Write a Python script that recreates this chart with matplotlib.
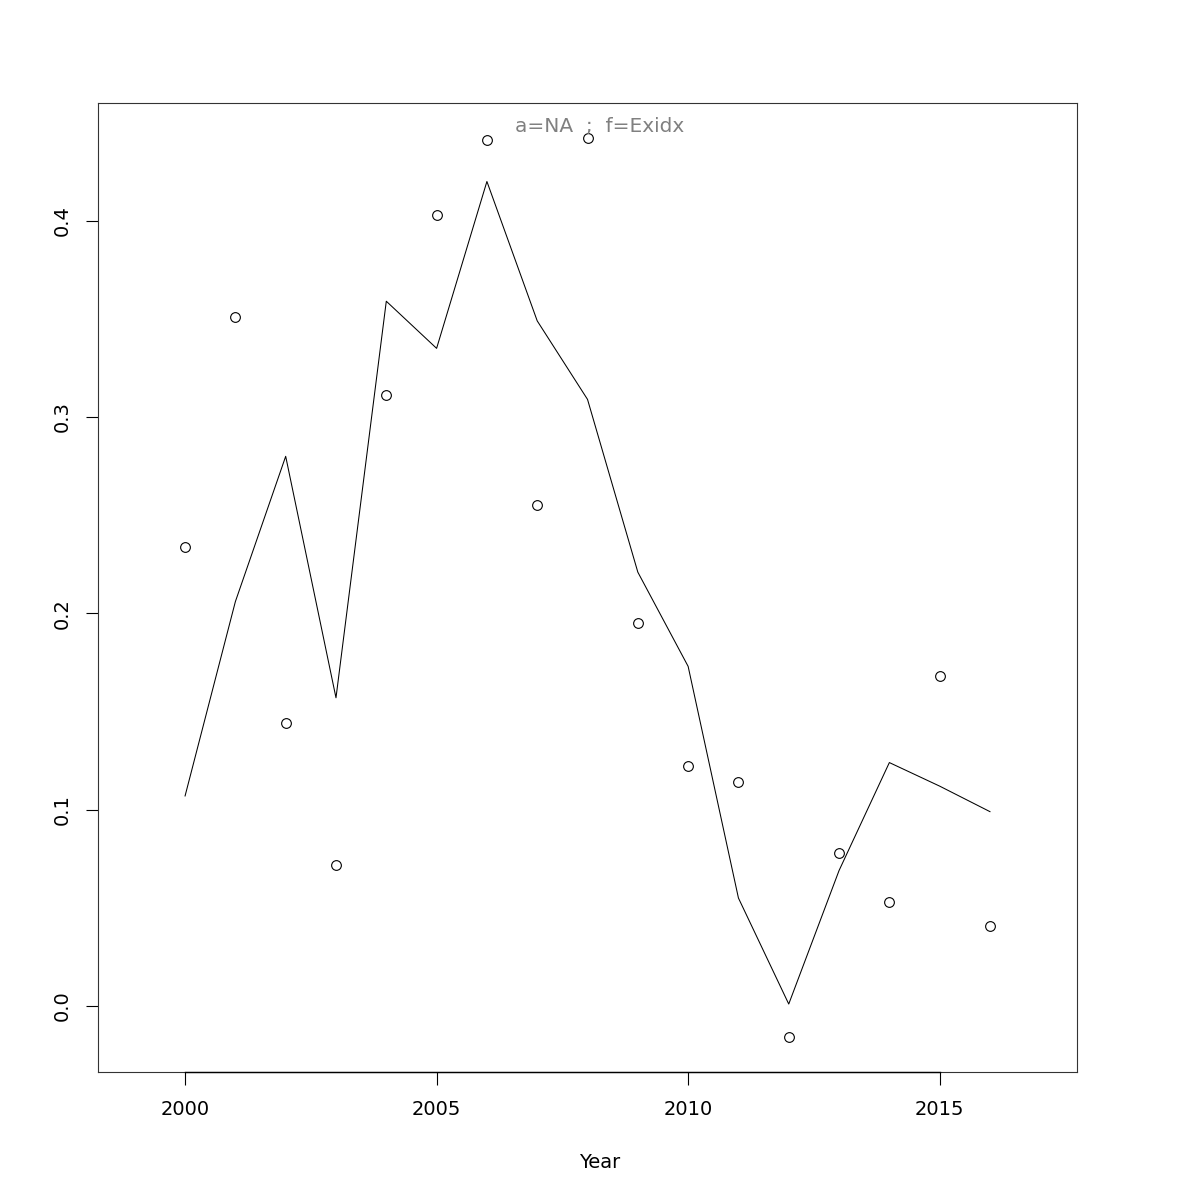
import matplotlib
matplotlib.use("Agg")
import matplotlib.pyplot as plt

years = list(range(2000, 2017))
obs = [0.234, 0.351, 0.144, 0.072, 0.311, 0.403, 0.441, 0.255, 0.442,
       0.195, 0.122, 0.114, -0.016, 0.078, 0.053, 0.168, 0.041]
fit = [0.107, 0.206, 0.280, 0.157, 0.359, 0.335, 0.420, 0.349, 0.309,
       0.221, 0.173, 0.055, 0.001, 0.069, 0.124, 0.112, 0.099]
xticks = [2000, 2005, 2010, 2015]
yticks = [0.0, 0.1, 0.2, 0.3, 0.4]


def main():
    fig = plt.figure(figsize=(12, 12), dpi=100)
    ax = fig.add_axes([0.0817, 0.1067, 0.8158, 0.8075])

    ax.plot(years, obs, "o", mfc="none", mec="black", ms=7, mew=0.8)
    ax.plot(years, fit, "-", color="black", lw=0.75)

    ax.set_xlim(1998.27, 2017.73)
    ax.set_ylim(-0.0336, 0.460)

    for s in ax.spines.values():
        s.set_color("#333333")
        s.set_linewidth(0.8)

    # R style x axis line between the first and last tick
    ax.plot([2000, 2015], [-0.0336, -0.0336], color="black", lw=1.0,
            clip_on=False, zorder=5)

    ax.set_xticks(xticks)
    ax.set_xticklabels([str(x) for x in xticks])
    ax.set_yticks(yticks)
    ax.set_yticklabels(["%.1f" % y for y in yticks], rotation=90, va="center")
    ax.tick_params(axis="both", length=9, width=0.8, labelsize=14, pad=11)
    ax.tick_params(axis="y", pad=10)

    fig.text(0.5, 1 - 1162 / 1200, "Year", ha="center", va="center",
             fontsize=14)
    fig.text(0.5, 1 - 127 / 1200, "a=NA  ;  f=Exidx", ha="center",
             va="center", fontsize=14.5, color="#808080")

    fig.savefig("out.png", dpi=100)


if __name__ == "__main__":
    main()
